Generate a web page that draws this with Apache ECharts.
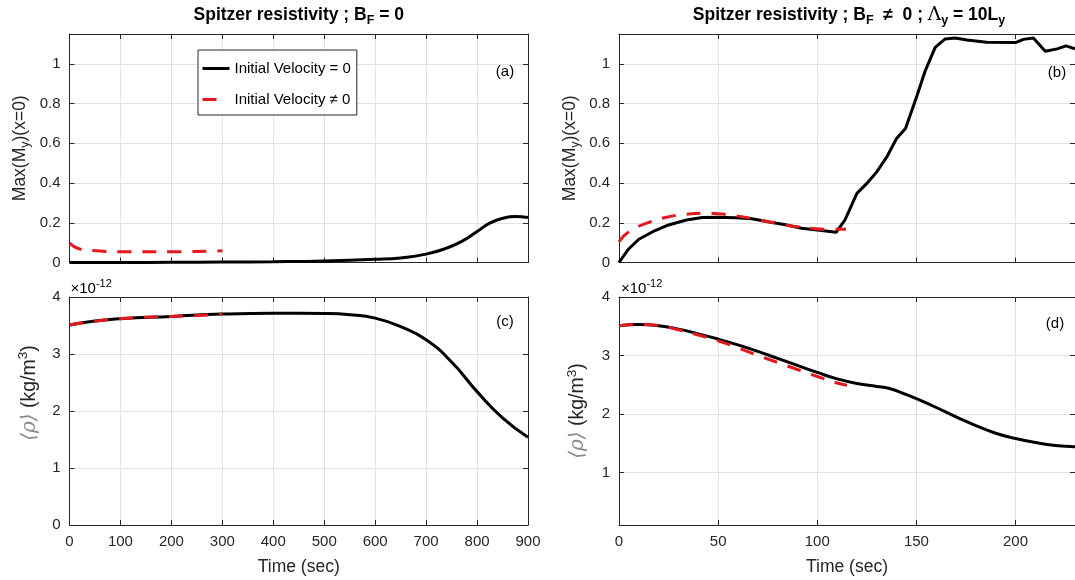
<!DOCTYPE html>
<html><head><meta charset="utf-8">
<script src="https://cdn.jsdelivr.net/npm/echarts@6/dist/echarts.min.js"></script>
<style>html,body{margin:0;padding:0;background:#fff}#c{width:1075px;height:580px}</style>
</head><body><div id="c"></div>
<script>
// ---------- data ----------
const legendNames = ['Initial Velocity = 0', 'Initial Velocity \u2260 0'];

// panel (a): Max(My)(x=0), B_F = 0
const tA_black = [0, 100, 200, 300, 400, 500, 600, 650, 700, 740, 770, 800, 825, 850, 875, 900];
const mA_black = [0, 0, 0.001, 0.002, 0.004, 0.008, 0.016, 0.023, 0.042, 0.072, 0.106, 0.156, 0.198, 0.222, 0.231, 0.226];
const tA_red = [0, 9, 22, 53, 100, 200, 300];
const mA_red = [0.1, 0.08, 0.067, 0.059, 0.054, 0.054, 0.059];

// panel (b): Max(My)(x=0), B_F != 0
const tB_black = [0, 4.5, 10, 17, 25, 34, 42, 50, 59, 67, 75, 84, 92, 100, 109.5, 114, 117, 120, 125, 130, 135, 140, 144.5, 150, 154.5, 159.5, 164.5, 169.5, 175.5, 185.5, 200, 204, 209, 215, 221, 225.5, 230];
const mB_black = [0, 0.064, 0.117, 0.155, 0.189, 0.214, 0.226, 0.228, 0.225, 0.22, 0.205, 0.19, 0.172, 0.164, 0.152, 0.214, 0.281, 0.348, 0.398, 0.456, 0.53, 0.624, 0.674, 0.83, 0.966, 1.083, 1.125, 1.13, 1.12, 1.108, 1.107, 1.123, 1.13, 1.063, 1.075, 1.09, 1.075];
const tB_red = [0, 5, 14, 24, 34, 42, 50, 59, 67, 77, 87, 97, 104, 114.5];
const mB_red = [0.105, 0.155, 0.198, 0.228, 0.243, 0.248, 0.245, 0.235, 0.222, 0.202, 0.184, 0.172, 0.167, 0.167];

// panel (c): <rho> (x1e-12 kg/m^3), B_F = 0
const tC_black = [0, 50, 100, 200, 300, 400, 500, 550, 600, 650, 700, 750, 800, 850, 900];
const rC_black = [3.51, 3.58, 3.62, 3.66, 3.70, 3.715, 3.71, 3.69, 3.63, 3.48, 3.25, 2.86, 2.34, 1.88, 1.54];
const tC_red = [0, 50, 100, 150, 200, 250, 300];
const rC_red = [3.51, 3.575, 3.62, 3.645, 3.66, 3.675, 3.70];

// panel (d): <rho> (x1e-12 kg/m^3), B_F != 0
const tD_black = [0, 10, 20, 30, 40, 50, 60, 70, 80, 90, 100, 110, 120, 130, 136, 145, 150, 160, 170, 180, 190, 200, 210, 220, 230];
const rD_black = [3.51, 3.53, 3.51, 3.45, 3.37, 3.28, 3.18, 3.07, 2.95, 2.83, 2.71, 2.6, 2.52, 2.47, 2.44, 2.33, 2.26, 2.11, 1.95, 1.8, 1.67, 1.58, 1.51, 1.46, 1.44];
const tD_red = [0, 10, 20, 30, 40, 50, 60, 70, 80, 90, 100, 110, 115];
const rD_red = [3.51, 3.53, 3.51, 3.44, 3.35, 3.25, 3.13, 3.0, 2.88, 2.76, 2.64, 2.53, 2.49];

// axis settings
const xLeftMax = 900, xLeftStep = 100;
const xRightMax = 230, xRightStep = 50;
const yTopMax = 1.15, yTopStep = 0.2;
const yCMax = 4, yCStep = 1;
const yDMin = 0.1, yDMax = 4;

// ---------- style ----------
const FONT = '"Liberation Sans", Arial, Helvetica, sans-serif';
const AX = '#262626';
const GRIDC = '#e2e2e2';
const RED = '#e3191e';

const zip = (a, b) => a.map((v, i) => [v, b[i]]);

const grids = [
  { left: 69.5, top: 34, width: 458.5, height: 228.5 },
  { left: 619, top: 34, width: 460, height: 228.5 },
  { left: 69.5, top: 297, width: 458.5, height: 228 },
  { left: 619, top: 297, width: 460, height: 228 }
];

const richMy = {
  n: { fontSize: 17.5, fontFamily: FONT, color: AX, lineHeight: 24, verticalAlign: 'middle' },
  s: { fontSize: 12.5, fontFamily: FONT, color: AX, lineHeight: 12, verticalAlign: 'bottom' }
};
const richRho = {
  g: { fontSize: 20, fontFamily: '"DejaVu Serif", serif', fontStyle: 'italic', color: '#8a8a8a', lineHeight: 26, verticalAlign: 'middle' },
  n: { fontSize: 19.5, fontFamily: FONT, color: AX, lineHeight: 26, verticalAlign: 'middle' },
  p: { fontSize: 13.5, fontFamily: FONT, color: AX, lineHeight: 13, verticalAlign: 'top' }
};

function mainX(gi, max, step, showLabel, name, showMax) {
  return {
    type: 'value', gridIndex: gi, min: 0, max: max, interval: step, position: 'bottom',
    axisLine: { show: true, onZero: false, lineStyle: { color: AX, width: 1 } },
    axisTick: { show: true, inside: true, length: 5, lineStyle: { color: AX } },
    axisLabel: { show: showLabel, color: AX, fontSize: 15, fontFamily: FONT, margin: 9, showMaxLabel: showMax },
    splitLine: { show: true, lineStyle: { color: GRIDC, width: 1 } },
    name: name, nameLocation: 'middle', nameGap: 33,
    nameTextStyle: { fontSize: 17.5, fontFamily: FONT, color: AX }
  };
}
function mirrorX(gi, max, step) {
  return {
    type: 'value', gridIndex: gi, min: 0, max: max, interval: step, position: 'top',
    axisLine: { show: true, onZero: false, lineStyle: { color: AX, width: 1 } },
    axisTick: { show: true, inside: true, length: 5, lineStyle: { color: AX } },
    axisLabel: { show: false }, splitLine: { show: false }
  };
}
function mainY(gi, opts, name, rich, gap, pad) {
  return Object.assign({
    type: 'value', gridIndex: gi, position: 'left',
    axisLine: { show: true, onZero: false, lineStyle: { color: AX, width: 1 } },
    axisTick: { show: true, inside: true, length: 5, lineStyle: { color: AX } },
    splitLine: { show: true, lineStyle: { color: GRIDC, width: 1 } },
    name: name, nameLocation: 'middle', nameGap: gap, nameRotate: 90,
    nameTextStyle: { rich: rich, padding: pad }
  }, opts);
}
function mirrorY(gi, opts) {
  return Object.assign({
    type: 'value', gridIndex: gi, position: 'right',
    axisLine: { show: true, onZero: false, lineStyle: { color: AX, width: 1 } },
    axisTick: { show: true, inside: true, length: 5, lineStyle: { color: AX } },
    axisLabel: { show: false }, splitLine: { show: false }
  }, opts);
}

const lblTop = { color: AX, fontSize: 15, fontFamily: FONT, margin: 9, showMaxLabel: false };
const yTopOpts = { min: 0, max: yTopMax, interval: yTopStep, axisLabel: lblTop };
const yCOpts = { min: 0, max: yCMax, interval: yCStep, axisLabel: { color: AX, fontSize: 15, fontFamily: FONT, margin: 9 } };
const yDOpts = { min: yDMin, max: yDMax, splitNumber: 4, minInterval: 1, maxInterval: 1,
  axisLabel: { color: AX, fontSize: 15, fontFamily: FONT, margin: 9, showMinLabel: false } };

const nameMy = '{n|Max(M}{s|y}{n|)(x=0)}';
const nameRho = '{g|\u27E8\u03C1\u27E9}{n| (kg/m}{p|3}{n|)}';

const xAxes = [
  mainX(0, xLeftMax, xLeftStep, false, '', true), mirrorX(0, xLeftMax, xLeftStep),
  mainX(1, xRightMax, xRightStep, false, '', false), mirrorX(1, xRightMax, xRightStep),
  mainX(2, xLeftMax, xLeftStep, true, 'Time (sec)', true), mirrorX(2, xLeftMax, xLeftStep),
  mainX(3, xRightMax, xRightStep, true, 'Time (sec)', false), mirrorX(3, xRightMax, xRightStep)
];
const yAxes = [
  mainY(0, yTopOpts, nameMy, richMy, 37, [0, 0, 0, 0]), mirrorY(0, { min: 0, max: yTopMax, interval: yTopStep }),
  mainY(1, yTopOpts, nameMy, richMy, 37, [0, 0, 0, 0]), mirrorY(1, { min: 0, max: yTopMax, interval: yTopStep }),
  mainY(2, yCOpts, nameRho, richRho, 27, [0, 0, 0, 36]), mirrorY(2, { min: 0, max: yCMax, interval: yCStep }),
  mainY(3, yDOpts, nameRho, richRho, 28, [0, 0, 0, 0]), mirrorY(3, { min: yDMin, max: yDMax, splitNumber: 4, minInterval: 1, maxInterval: 1 })
];

function lineSeries(name, gi, data, isRed, smooth) {
  return {
    type: 'line', name: name, xAxisIndex: gi * 2, yAxisIndex: gi * 2, data: data,
    symbol: 'none', smooth: smooth, animation: false, clip: true,
    lineStyle: isRed ? { color: RED, width: 3, type: [14, 11] } : { color: '#000', width: 3 },
    itemStyle: { color: isRed ? RED : '#000' },
    z: isRed ? 3 : 2
  };
}

const series = [
  lineSeries(legendNames[0], 0, zip(tA_black, mA_black), false, 0.5),
  lineSeries(legendNames[1], 0, zip(tA_red, mA_red), true, 0.5),
  lineSeries(legendNames[0], 1, zip(tB_black, mB_black), false, false),
  lineSeries(legendNames[1], 1, zip(tB_red, mB_red), true, 0.5),
  lineSeries(legendNames[0], 2, zip(tC_black, rC_black), false, 0.5),
  lineSeries(legendNames[1], 2, zip(tC_red, rC_red), true, 0.5),
  lineSeries(legendNames[0], 3, zip(tD_black, rD_black), false, 0.5),
  lineSeries(legendNames[1], 3, zip(tD_red, rD_red), true, 0.5)
];

const titleRich = {
  b: { fontSize: 17.5, fontWeight: 'bold', fontFamily: FONT, color: '#000', lineHeight: 24, verticalAlign: 'middle' },
  s: { fontSize: 12.5, fontWeight: 'bold', fontFamily: FONT, color: '#000', lineHeight: 12, verticalAlign: 'bottom' },
  l: { fontSize: 18.5, fontFamily: '"DejaVu Serif", serif', color: '#000', lineHeight: 24, verticalAlign: 'middle' }
};
const expRich = {
  m: { fontSize: 15, fontFamily: FONT, color: AX, lineHeight: 22, verticalAlign: 'middle' },
  e: { fontSize: 11, fontFamily: FONT, color: AX, lineHeight: 12, verticalAlign: 'top' }
};
function label(txt, x, y) {
  return { type: 'text', x: x, y: y, style: { text: txt, fontSize: 15, fontFamily: FONT, fill: '#000', align: 'center', verticalAlign: 'middle' } };
}

const chart = echarts.init(document.getElementById('c'), null, { renderer: 'canvas' });
chart.setOption({
  backgroundColor: '#fff',
  animation: false,
  grid: grids,
  xAxis: xAxes,
  yAxis: yAxes,
  legend: {
    data: [
      { name: legendNames[0], lineStyle: { width: 3, color: '#000' } },
      { name: legendNames[1], lineStyle: { width: 3, color: RED, type: [14, 16] } }
    ],
    left: 198, top: 50, orient: 'vertical',
    padding: [11, 6, 8, 3], itemWidth: 27, itemHeight: 15, itemGap: 16,
    borderColor: AX, borderWidth: 1, backgroundColor: '#fff',
    itemStyle: { opacity: 0 },
    textStyle: { fontSize: 15, fontFamily: FONT, color: '#000' },
    selectedMode: false
  },
  graphic: [
    { type: 'text', x: 298.75, y: 15, style: { text: '{b|Spitzer resistivity ; B}{s|F}{b| = 0}', rich: titleRich, align: 'center', verticalAlign: 'middle' } },
    { type: 'text', x: 849, y: 15, style: { text: '{b|Spitzer resistivity ; B}{s|F}{b|  \u2260  0 ; }{l|\u039B}{s|y}{b| = 10L}{s|y}', rich: titleRich, align: 'center', verticalAlign: 'middle' } },
    label('(a)', 505, 72), label('(b)', 1057, 73), label('(c)', 505, 322), label('(d)', 1055, 324),
    { type: 'text', x: 70.5, y: 289, style: { text: '{m|\u00D710}{e|-12}', rich: expRich, align: 'left', verticalAlign: 'middle' } },
    { type: 'text', x: 621, y: 289, style: { text: '{m|\u00D710}{e|-12}', rich: expRich, align: 'left', verticalAlign: 'middle' } }
  ],
  series: series
});
</script>
</body></html>
